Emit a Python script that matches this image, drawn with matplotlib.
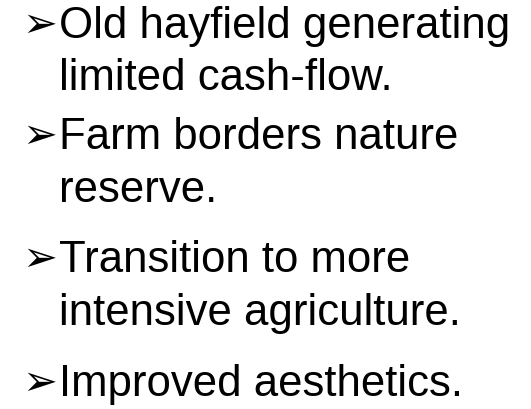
import matplotlib
matplotlib.use("Agg")
import matplotlib.pyplot as plt

W, H, DPI = 531, 409, 100

# bullet items, each one split into the lines it wraps onto
items = [
    ["Old hayfield generating", "limited cash-flow."],
    ["Farm borders nature", "reserve."],
    ["Transition to more", "intensive agriculture."],
    ["Improved aesthetics."],
]
# baseline of the first line of each item (pixels from top)
first_baselines = [38, 149, 272, 396]
LINE_STEP = 52.5

TEXT_X = 59
BULLET_X = 22.5
FS = 31.5
BULLET_FS = 30

fig = plt.figure(figsize=(W / DPI, H / DPI), dpi=DPI)
fig.patch.set_facecolor("white")

for lines, y0 in zip(items, first_baselines):
    # arrow bullet, centred roughly on mid cap height
    fig.text(BULLET_X / W, 1 - (y0 - 1) / H, "\u27a2", fontsize=BULLET_FS,
             family=["DejaVu Sans"], color="black", ha="left", va="baseline")
    for i, line in enumerate(lines):
        y = y0 + i * LINE_STEP
        fig.text(TEXT_X / W, 1 - y / H, line, fontsize=FS,
                 family=["Liberation Sans", "DejaVu Sans"], color="black",
                 ha="left", va="baseline")

fig.savefig("out.png", dpi=DPI)
